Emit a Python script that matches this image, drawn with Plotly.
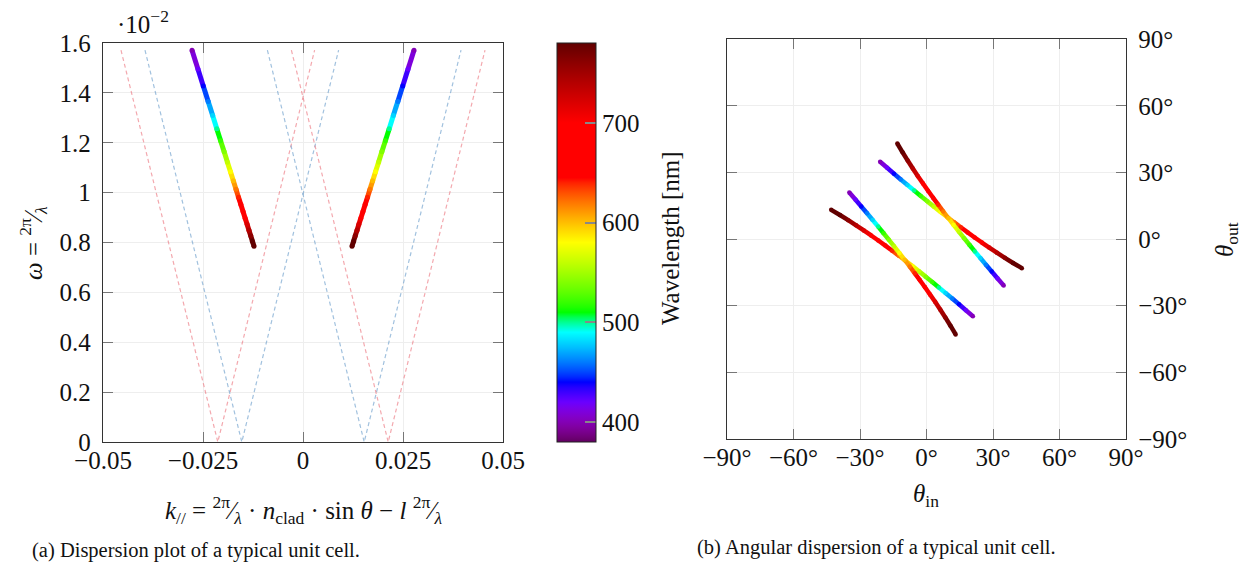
import plotly.graph_objects as go

# ---------------- data ----------------
wavelength_nm = [400, 420, 440, 460, 480, 500, 520, 540, 560, 580, 600,
                 620, 640, 660, 680, 700, 720, 740, 760, 780, 800]
# omega = 2*pi/lambda, in units of 1e-2 nm^-1
omega_e2 = [1.5708, 1.4960, 1.4280, 1.3659, 1.3090, 1.2566, 1.2083, 1.1636,
            1.1220, 1.0833, 1.0472, 1.0134, 0.9817, 0.9520, 0.9240, 0.8976,
            0.8727, 0.8491, 0.8267, 0.8055, 0.7854]
k_branch_left = [-0.02775, -0.02627, -0.02493, -0.02371, -0.02258, -0.02155,
                 -0.02060, -0.01971, -0.01889, -0.01813, -0.01742, -0.01675,
                 -0.01613, -0.01554, -0.01499, -0.01446, -0.01397, -0.01351,
                 -0.01307, -0.01265, -0.01225]
k_branch_right = [0.02775, 0.02627, 0.02493, 0.02371, 0.02258, 0.02155,
                  0.02060, 0.01971, 0.01889, 0.01813, 0.01742, 0.01675,
                  0.01613, 0.01554, 0.01499, 0.01446, 0.01397, 0.01351,
                  0.01307, 0.01265, 0.01225]

# dashed light lines (V shapes)
dash_omega = [1.571, 0.0, 1.571]
red_v_left_k = [-0.0455, -0.0213, 0.0029]
blue_v_left_k = [-0.0395, -0.0153, 0.0089]
blue_v_right_k = [-0.0089, 0.0153, 0.0395]
red_v_right_k = [-0.0029, 0.0213, 0.0455]

# angular dispersion curves (degrees), same wavelength sampling
theta_in_1 = [-20.92, -17.76, -14.66, -11.61, -8.58, -5.58, -2.60, 0.38, 3.36, 6.34, 9.35,
              12.38, 15.45, 18.56, 21.73, 24.97, 28.30, 31.74, 35.32, 39.05, 43.00]
theta_out_1 = [34.82, 32.08, 29.42, 26.82, 24.29, 21.80, 19.36, 16.95, 14.58, 12.22, 9.89,
               7.58, 5.28, 2.98, 0.69, -1.59, -3.88, -6.18, -8.49, -10.81, -13.14]
theta_in_2 = [34.82, 32.08, 29.42, 26.82, 24.29, 21.80, 19.36, 16.95, 14.58, 12.22, 9.89,
              7.58, 5.28, 2.98, 0.69, -1.59, -3.88, -6.18, -8.49, -10.81, -13.14]
theta_out_2 = [-20.92, -17.76, -14.66, -11.61, -8.58, -5.58, -2.60, 0.38, 3.36, 6.34, 9.35,
               12.38, 15.45, 18.56, 21.73, 24.97, 28.30, 31.74, 35.32, 39.05, 43.00]
theta_in_3 = [20.92, 17.76, 14.66, 11.61, 8.58, 5.58, 2.60, -0.38, -3.36, -6.34, -9.35,
              -12.38, -15.45, -18.56, -21.73, -24.97, -28.30, -31.74, -35.32, -39.05, -43.00]
theta_out_3 = [-34.82, -32.08, -29.42, -26.82, -24.29, -21.80, -19.36, -16.95, -14.58, -12.22, -9.89,
               -7.58, -5.28, -2.98, -0.69, 1.59, 3.88, 6.18, 8.49, 10.81, 13.14]
theta_in_4 = [-34.82, -32.08, -29.42, -26.82, -24.29, -21.80, -19.36, -16.95, -14.58, -12.22, -9.89,
              -7.58, -5.28, -2.98, -0.69, 1.59, 3.88, 6.18, 8.49, 10.81, 13.14]
theta_out_4 = [20.92, 17.76, 14.66, 11.61, 8.58, 5.58, 2.60, -0.38, -3.36, -6.34, -9.35,
               -12.38, -15.45, -18.56, -21.73, -24.97, -28.30, -31.74, -35.32, -39.05, -43.00]

k_tickvals = [-0.05, -0.025, 0, 0.025, 0.05]
k_ticktext = ["\u22120.05", "\u22120.025", "0", "0.025", "0.05"]
w_tickvals = [0, 0.2, 0.4, 0.6, 0.8, 1.0, 1.2, 1.4, 1.6]
w_ticktext = ["0", "0.2", "0.4", "0.6", "0.8", "1", "1.2", "1.4", "1.6"]
ang_tickvals = [-90, -60, -30, 0, 30, 60, 90]
ang_ticktext = ["\u221290\u00b0", "\u221260\u00b0", "\u221230\u00b0", "0\u00b0",
                "30\u00b0", "60\u00b0", "90\u00b0"]
cbar_tickvals = [400, 500, 600, 700]

# ---------------- style ----------------
W, H = 1246, 575
FONT = "Liberation Serif"
WL_MIN, WL_MAX = 380, 780


def wl_rgb(w):
    w = min(max(w, WL_MIN), WL_MAX)
    if w < 440:
        r, g, b = -(w - 440) / 60.0, 0.0, 1.0
    elif w < 490:
        r, g, b = 0.0, (w - 440) / 50.0, 1.0
    elif w < 510:
        r, g, b = 0.0, 1.0, -(w - 510) / 20.0
    elif w < 580:
        r, g, b = (w - 510) / 70.0, 1.0, 0.0
    elif w < 645:
        r, g, b = 1.0, -(w - 645) / 65.0, 0.0
    else:
        r, g, b = 1.0, 0.0, 0.0
    if w < 420:
        f = 0.3 + 0.7 * (w - 380) / 40.0
    elif w <= 700:
        f = 1.0
    else:
        f = 0.3 + 0.7 * (780 - w) / 80.0
    conv = lambda c: 0 if c <= 0 else int(round(255 * (c * f) ** 0.8))
    return "rgb(%d,%d,%d)" % (conv(r), conv(g), conv(b))


colorscale = []
for s in range(0, 81):
    w = WL_MIN + 5 * s
    colorscale.append([(w - WL_MIN) / (WL_MAX - WL_MIN), wl_rgb(w)])


def px_x(p):
    return p / W


def px_y(p):
    return 1 - p / H


fig = go.Figure()

# dashed lines
dash_red = "rgba(235,110,120,0.6)"
dash_blue = "rgba(110,160,205,0.65)"
for kk, col in [(red_v_left_k, dash_red), (blue_v_left_k, dash_blue),
                (blue_v_right_k, dash_blue), (red_v_right_k, dash_red)]:
    fig.add_trace(go.Scatter(x=kk, y=dash_omega, mode="lines",
                             line=dict(color=col, width=1.2, dash="4px,3px"),
                             xaxis="x", yaxis="y", hoverinfo="skip"))


def add_gradient_curve(xs, ys, xa, ya, width, show_cbar=False):
    for i in range(len(xs) - 1):
        wm = 0.5 * (wavelength_nm[i] + wavelength_nm[i + 1])
        fig.add_trace(go.Scatter(x=[xs[i], xs[i + 1]], y=[ys[i], ys[i + 1]],
                                 mode="lines", line=dict(color=wl_rgb(wm), width=width),
                                 xaxis=xa, yaxis=ya, hoverinfo="skip"))
    marker = dict(size=width, color=wavelength_nm, colorscale=colorscale,
                  cmin=WL_MIN, cmax=WL_MAX, line=dict(width=0))
    if show_cbar:
        marker["showscale"] = True
        marker["colorbar"] = dict(
            x=px_x(557), xanchor="left", xpad=0,
            y=px_y(242.5), yanchor="middle", ypad=0,
            len=399, lenmode="pixels", thickness=39, thicknessmode="pixels",
            outlinewidth=1, outlinecolor="#222",
            tickvals=cbar_tickvals, ticks="inside", ticklen=11,
            tickcolor="#888", tickwidth=1.5,
            tickfont=dict(family=FONT, size=25, color="#111"))
    fig.add_trace(go.Scatter(x=xs, y=ys, mode="markers", marker=marker,
                             xaxis=xa, yaxis=ya, hoverinfo="skip"))


add_gradient_curve(k_branch_left, omega_e2, "x", "y", 5, show_cbar=True)
add_gradient_curve(k_branch_right, omega_e2, "x", "y", 5)
add_gradient_curve(theta_in_1, theta_out_1, "x2", "y2", 4.5)
add_gradient_curve(theta_in_2, theta_out_2, "x2", "y2", 4.5)
add_gradient_curve(theta_in_3, theta_out_3, "x2", "y2", 4.5)
add_gradient_curve(theta_in_4, theta_out_4, "x2", "y2", 4.5)

axis_common = dict(showgrid=True, gridcolor="#eeeeee", gridwidth=1,
                   zeroline=False, showline=True, linecolor="#333",
                   linewidth=1.3, mirror="ticks", ticks="inside", ticklen=10,
                   tickcolor="#777", tickwidth=1.2, automargin=False,
                   tickfont=dict(family=FONT, size=25, color="#111"))

fig.update_layout(
    width=W, height=H, margin=dict(l=0, r=0, t=0, b=0, autoexpand=False),
    paper_bgcolor="white", plot_bgcolor="white", showlegend=False,
    xaxis=dict(domain=[px_x(103), px_x(503)], range=[-0.05, 0.05],
               tickvals=k_tickvals, ticktext=k_ticktext, anchor="y",
               ticklabelstandoff=-4, **axis_common),
    yaxis=dict(domain=[px_y(442), px_y(43)], range=[0, 1.6],
               tickvals=w_tickvals, ticktext=w_ticktext, anchor="x",
               ticklabelstandoff=6, **axis_common),
    xaxis2=dict(domain=[px_x(727), px_x(1126)], range=[-90, 90],
                tickvals=ang_tickvals, ticktext=ang_ticktext, anchor="y2",
                ticklabelstandoff=-4, **axis_common),
    yaxis2=dict(domain=[px_y(438.8), px_y(39.2)], range=[-90, 90],
                tickvals=ang_tickvals, ticktext=ang_ticktext, anchor="x2",
                side="right", ticklabelstandoff=6, **axis_common),
)

ann_font = dict(family=FONT, size=25, color="#111")
cap_font = dict(family=FONT, size=20.5, color="#111")
annotations = [
    dict(x=px_x(143), y=px_y(22), text="\u00b710<sup>\u22122</sup>", font=ann_font),
    dict(x=px_x(33), y=px_y(243), textangle=-90,
         text="<i>\u03c9</i> = <sup>2\u03c0</sup>\u2044<sub><i>\u03bb</i></sub>", font=ann_font),
    dict(x=px_x(303), y=px_y(510),
         text="<i>k</i><sub>//</sub> = <sup>2\u03c0</sup>\u2044<sub><i>\u03bb</i></sub> \u00b7 "
              "<i>n</i><sub>clad</sub> \u00b7 sin <i>\u03b8</i> \u2212 <i>l</i> "
              "<sup>2\u03c0</sup>\u2044<sub><i>\u03bb</i></sub>", font=ann_font),
    dict(x=px_x(670), y=px_y(238), textangle=-90, text="Wavelength [nm]", font=ann_font),
    dict(x=px_x(926), y=px_y(495), text="<i>\u03b8</i><sub>in</sub>", font=ann_font),
    dict(x=px_x(1226), y=px_y(240), textangle=-90, text="<i>\u03b8</i><sub>out</sub>", font=ann_font),
    dict(x=px_x(196), y=px_y(550), text="(a) Dispersion plot of a typical unit cell.",
         font=cap_font),
    dict(x=px_x(876), y=px_y(547), text="(b) Angular dispersion of a typical unit cell.",
         font=cap_font),
]
for a in annotations:
    a.update(xref="paper", yref="paper", showarrow=False, xanchor="center", yanchor="middle")
fig.update_layout(annotations=annotations)

fig.write_html("out.html", include_plotlyjs=True, config={"displayModeBar": False},
               post_script="document.body.style.margin='0px';document.body.style.overflow='hidden';")
